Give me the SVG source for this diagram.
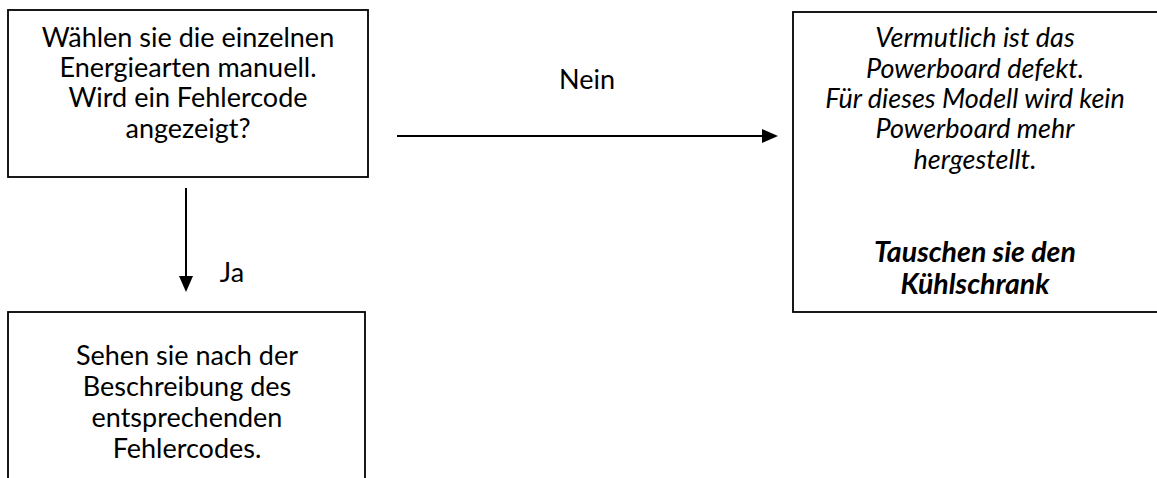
<svg xmlns="http://www.w3.org/2000/svg" width="1157" height="478" viewBox="0 0 1157 478">
<style>
  .box { fill: #ffffff; stroke: #000000; stroke-width: 1.8; }
  .t { font-family: Lato, "Open Sans", "Liberation Sans", sans-serif; font-size: 27px; fill: #000000; text-anchor: middle; }
  .i { font-style: italic; font-size: 27px; }
  .b { font-weight: bold; font-size: 28.5px; }
  .conn { stroke: #000000; stroke-width: 2; fill: none; }
</style>
<defs>
  <marker id="arr" markerUnits="userSpaceOnUse" viewBox="0 0 16 14" refX="1" refY="7" markerWidth="16" markerHeight="14" orient="auto">
    <path d="M0,0 L16,7 L0,14 z" fill="#000000"/>
  </marker>
</defs>
<rect width="1157" height="478" fill="#ffffff"/>
<g id="node-question">
  <rect class="box" x="8" y="10" width="360" height="167"/>
  <text class="t" x="188" y="47">Wählen sie die einzelnen</text>
  <text class="t" x="188" y="77">Energiearten manuell.</text>
  <text class="t" x="188" y="107">Wird ein Fehlercode</text>
  <text class="t" x="188" y="138">angezeigt?</text>
</g>
<g id="node-powerboard">
  <rect class="box" x="793" y="12" width="370" height="300"/>
  <text class="t i" x="975" y="47">Vermutlich ist das</text>
  <text class="t i" x="975" y="78">Powerboard defekt.</text>
  <text class="t i" x="975" y="108">Für dieses Modell wird kein</text>
  <text class="t i" x="975" y="138">Powerboard mehr</text>
  <text class="t i" x="975" y="169">hergestellt.</text>
  <text class="t i b" x="975" y="262">Tauschen sie den</text>
  <text class="t i b" x="975" y="294">Kühlschrank</text>
</g>
<g id="node-fehlercode">
  <rect class="box" x="8" y="312" width="357" height="180"/>
  <text class="t" x="187" y="365">Sehen sie nach der</text>
  <text class="t" x="187" y="396">Beschreibung des</text>
  <text class="t" x="187" y="427">entsprechenden</text>
  <text class="t" x="187" y="458">Fehlercodes.</text>
</g>
<g id="connectors">
  <line class="conn" x1="397" y1="136" x2="763" y2="136" marker-end="url(#arr)"/>
  <line class="conn" x1="186" y1="188" x2="186" y2="277" marker-end="url(#arr)"/>
  <text class="t" x="587" y="89">Nein</text>
  <text class="t" x="232" y="282">Ja</text>
</g>
</svg>
